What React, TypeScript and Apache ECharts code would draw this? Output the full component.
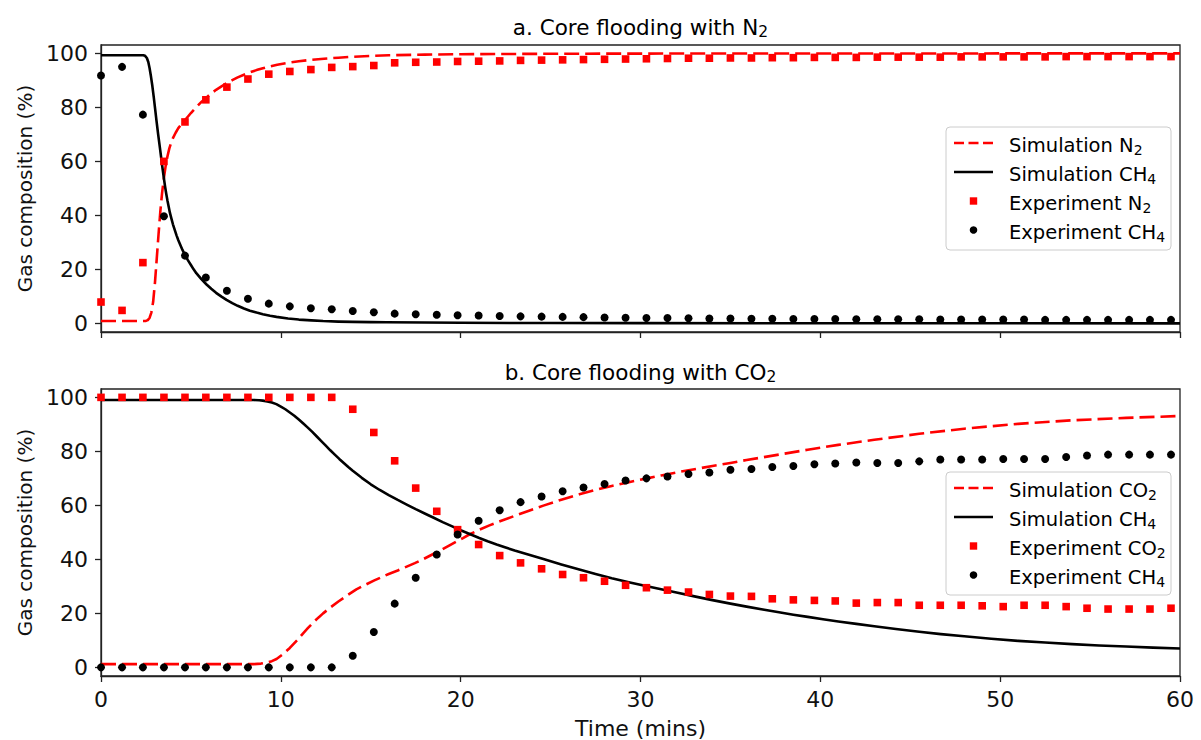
import React, { useEffect, useRef } from "react";
import * as echarts from "echarts";

// ---------- Data ----------
const expTime = [
  0, 1.17, 2.33, 3.5, 4.67, 5.83, 7, 8.17, 9.33, 10.5, 11.67, 12.83, 14, 15.17, 16.33, 17.5, 18.67, 19.83, 21,
  22.17, 23.33, 24.5, 25.67, 26.83, 28, 29.17, 30.33, 31.5, 32.67, 33.83, 35, 36.17, 37.33, 38.5, 39.67, 40.83,
  42, 43.17, 44.33, 45.5, 46.67, 47.83, 49, 50.17, 51.33, 52.5, 53.67, 54.83, 56, 57.17, 58.33, 59.5,
];

// Panel a: N2 flooding
const expN2A = [
  7.9, 4.8, 22.5, 60, 74.6, 82.8, 87.5, 90.5, 92.3, 93.3, 94, 94.8, 95.1, 95.5,
  96.5, 96.7, 96.8, 97.0, 97.1, 97.2, 97.4, 97.5, 97.6, 97.7,
  97.8, 97.9, 98.0, 98.1, 98.2, 98.2, 98.3, 98.3, 98.4, 98.4,
  98.5, 98.5, 98.5, 98.6, 98.6, 98.6, 98.6, 98.7, 98.7, 98.7,
  98.7, 98.7, 98.8, 98.8, 98.8, 98.8, 98.8, 98.8,
];
const expCH4A = [
  91.8, 95, 77.3, 39.7, 25.1, 17, 12.1, 9.1, 7.3, 6.3, 5.6, 5.2, 4.6, 4.1,
  3.6, 3.4, 3.2, 3.0, 2.9, 2.7, 2.6, 2.5, 2.4, 2.3,
  2.2, 2.1, 2.0, 2.0, 1.9, 1.8, 1.8, 1.7, 1.7, 1.6,
  1.6, 1.6, 1.5, 1.5, 1.5, 1.5, 1.4, 1.4, 1.4, 1.4,
  1.4, 1.3, 1.3, 1.3, 1.3, 1.3, 1.3, 1.3,
];
const simN2ATime = [
  0, 2.5, 2.6, 2.7, 2.8, 2.9, 3.0, 3.1, 3.2, 3.3, 3.4, 3.5, 3.6, 3.7, 3.8, 3.9, 4.0, 4.15, 4.3, 4.5, 4.67, 4.85,
  5.0, 5.3, 5.6, 5.87, 6.1, 6.4, 6.7, 7, 7.3, 7.6, 7.95, 8.3, 8.65, 9, 9.4, 9.8, 10.4, 11, 11.7, 12.4, 13.2, 14,
  15, 16, 18, 20, 25, 30, 45, 60,
];
const simN2A = [
  0.9, 0.9, 1.2, 2, 4, 8, 15, 24, 33, 41.5, 48.5, 54, 58.5, 62, 64.8, 66.9, 68.6, 70.6, 72.3, 74, 75.3, 76.7,
  77.9, 80.1, 82.1, 83.7, 85, 86.5, 87.8, 89, 90.1, 91.1, 92.1, 93, 93.8, 94.5, 95.2, 95.8, 96.5, 97.1, 97.6, 98,
  98.4, 98.75, 99.05, 99.3, 99.55, 99.7, 99.85, 99.92, 99.97, 100,
];
const simCH4ATime = [
  0, 2.35, 2.45, 2.55, 2.63, 2.7, 2.77, 2.85, 2.93, 3.0, 3.09, 3.18, 3.28, 3.36, 3.43, 3.5, 3.56, 3.63, 3.7, 3.77,
  3.83, 3.92, 4.0, 4.1, 4.2, 4.3, 4.4, 4.53, 4.67, 4.83, 5.0, 5.15, 5.3, 5.58, 5.87, 6.13, 6.4, 6.7, 6.98, 7.3, 7.6,
  7.95, 8.28, 8.65, 9, 9.4, 9.76, 10.4, 11, 11.7, 12.35, 13.2, 14, 15, 15.87, 18, 20, 25, 30, 45, 60,
];
const simCH4A = [
  99.3, 99.3, 99.1, 98.3, 96.8, 94.6, 91.8, 88.2, 84, 80, 74.8, 69.9, 64.8, 60.6, 57, 53.6, 50.8, 47.9, 45.3, 43,
  41, 38.7, 36.7, 34.6, 32.6, 30.8, 29.2, 27.2, 25.3, 23.4, 21.6, 20.0, 18.6, 16.4, 14.4, 12.8, 11.3, 9.9, 8.7,
  7.5, 6.5, 5.5, 4.7, 4.0, 3.4, 2.8, 2.4, 1.8, 1.4, 1.1, 0.85, 0.65, 0.55, 0.45, 0.4, 0.3, 0.2, 0.12, 0.08, 0.03, 0,
];

// Panel b: CO2 flooding
const expCO2B = [
  100, 100, 100, 100, 100, 100, 100, 100, 100, 100, 100, 100,
  95.6, 87, 76.5, 66.4, 57.8, 51, 45.5, 41.4, 38.7, 36.5,
  34.4, 33.2, 31.9, 30.4, 29.5, 28.6, 27.9, 27.0, 26.4, 26.3,
  25.4, 25.0, 24.8, 24.6, 23.8, 24, 24, 23, 23, 23,
  22.8, 22.5, 23, 23, 22.5, 21.9, 21.6, 21.6, 21.6, 21.9,
];
const expCH4B = [
  0, 0, 0, 0, 0, 0, 0, 0, 0, 0, 0, 0,
  4.3, 13.1, 23.6, 33.2, 41.8, 49.2, 54.3, 58.2, 61.2, 63.3,
  65.2, 66.6, 67.9, 69.2, 70, 70.7, 71.6, 72.2, 73.2, 73.5,
  74.2, 74.6, 75.2, 75.5, 75.9, 75.7, 75.7, 76.3, 77, 77,
  77, 77.2, 77.2, 77.2, 77.9, 78.5, 78.8, 78.8, 78.8, 78.8,
];
const simCO2BTime = [
  0, 8.5, 8.9, 9.2, 9.5, 9.76, 10.1, 10.5, 10.9, 11.24, 11.5, 11.8, 12.1, 12.35, 12.8, 13.2, 13.7, 14.2, 14.7,
  15.2, 15.6, 16, 16.5, 17, 17.45, 17.9, 18.45, 19, 19.38, 19.76, 20.13, 20.5, 21.05, 21.6, 22.3, 23, 23.8, 24.6,
  25.6, 26.6, 27.5, 28.4, 29.35, 30.3, 31.15, 32, 33, 34, 35, 35.9, 37.7, 39.3, 41, 43, 45.5, 48, 51, 54, 57, 60,
];
const simCO2B = [
  1.2, 1.2, 1.4, 1.8, 2.3, 3.1, 4.8, 7.2, 10.0, 12.6, 14.5, 16.6, 18.5, 20.0, 22.4, 24.4, 26.7, 28.9, 30.6,
  32.2, 33.4, 34.6, 35.9, 37.3, 38.6, 40.0, 41.9, 43.8, 45.2, 46.6, 47.9, 49.3, 51.0, 52.6, 54.4, 56.1, 58.0, 59.9,
  62.1, 64.1, 65.7, 67.2, 68.6, 69.9, 71.1, 72.2, 73.4, 74.6, 75.7, 76.8, 78.8, 80.6, 82.4, 84.3, 86.5, 88.4,
  90.2, 91.5, 92.4, 93.1,
];
const simCH4BTime = [
  0, 8.5, 8.8, 9, 9.25, 9.5, 9.75, 10, 10.25, 10.5, 10.75, 11, 11.25, 11.5, 11.75, 12, 12.25, 12.5, 12.75, 13,
  13.25, 13.5, 13.75, 14, 14.5, 15, 15.5, 16, 16.5, 17, 17.5, 18, 18.5, 19, 19.5, 20, 20.5, 21, 21.5, 22, 22.5, 23,
  23.8, 24.6, 25.6, 26.6, 27.5, 28.4, 29.35, 30.3, 31.15, 32, 33, 34, 35, 35.9, 36.8, 37.7, 38.5, 39.3, 40.15, 41,
  42, 43, 44.2, 45.5, 46.7, 48, 49.5, 51, 52.5, 54, 55.5, 57, 58.5, 60,
];
const simCH4B = [
  99, 99, 98.95, 98.8, 98.5, 98.1, 97.5, 96.6, 95.6, 94.4, 93.2, 91.8, 90.3, 88.8, 87.2, 85.5, 83.8, 82.1, 80.4,
  78.8, 77.2, 75.7, 74.2, 72.8, 70.2, 67.8, 65.7, 63.8, 62.0, 60.3, 58.6, 57.0, 55.4, 53.8, 52.3, 50.8, 49.4, 48.0,
  46.7, 45.5, 44.4, 43.3, 41.7, 40.1, 38.1, 36.2, 34.6, 33.0, 31.5, 30.1, 28.9, 27.7, 26.3, 24.9, 23.6, 22.5,
  21.4, 20.4, 19.5, 18.7, 17.8, 17.0, 16.1, 15.2, 14.2, 13.2, 12.3, 11.5, 10.6, 9.8, 9.2, 8.6, 8.1, 7.7, 7.3, 7.0,
];

const yTickValues = [0, 20, 40, 60, 80, 100];
const titleA = "a. Core flooding with N₂";
const titleB = "b. Core flooding with CO₂";
const legendA = ["Simulation N₂", "Simulation CH₄", "Experiment N₂", "Experiment CH₄"];
const legendB = ["Simulation CO₂", "Simulation CH₄", "Experiment CO₂", "Experiment CH₄"];
const yName = "Gas composition (%)";
const xName = "Time (mins)";

// ---------- Styling ----------
const FONT = "DejaVu Sans";
const TXT = "#111";
const AX = "#222";
const RED = "#ff0000";
const BLACK = "#000000";

const zip = (xs: number[], ys: number[]) => xs.map((x, i) => [x, ys[i]]);

const SUBS = "₀₁₂₃₄₅₆₇₈₉";
// Turn "N₂" into rich-text tokens with a real subscript
function richify(s: string) {
  let out = "";
  let cur = "";
  let mode: "m" | "s" = "m";
  for (const ch of s) {
    const k = SUBS.indexOf(ch);
    const m: "m" | "s" = k >= 0 ? "s" : "m";
    const c = k >= 0 ? String(k) : ch;
    if (m !== mode && cur) {
      out += `{${mode}|${cur}}`;
      cur = "";
    }
    mode = m;
    cur += c;
  }
  if (cur) out += `{${mode}|${cur}}`;
  return out;
}

function richStyle(size: number, subSize: number, mainLH: number, subLH: number) {
  return {
    m: { fontSize: size, fontFamily: FONT, color: TXT, lineHeight: mainLH },
    s: { fontSize: subSize, fontFamily: FONT, color: TXT, lineHeight: subLH, verticalAlign: "bottom" },
  };
}

function legendGroup(top: number, labels: string[]) {
  const left = 946;
  const rowY = (i: number) => top + 16 + 29 * i;
  const children: any[] = [
    {
      type: "rect",
      shape: { x: left, y: top, width: 225, height: 123, r: 4 },
      style: { fill: "rgba(255,255,255,0.85)", stroke: "#cccccc", lineWidth: 1 },
    },
    {
      type: "line",
      shape: { x1: 954, y1: rowY(0), x2: 993, y2: rowY(0) },
      style: { stroke: RED, lineWidth: 2.6, lineDash: [10, 4.5] },
    },
    {
      type: "line",
      shape: { x1: 954, y1: rowY(1), x2: 993, y2: rowY(1) },
      style: { stroke: BLACK, lineWidth: 2.6 },
    },
    {
      type: "rect",
      shape: { x: 973.5 - 3.7, y: rowY(2) - 3.7, width: 7.4, height: 7.4 },
      style: { fill: RED },
    },
    {
      type: "circle",
      shape: { cx: 973.5, cy: rowY(3), r: 3.8 },
      style: { fill: BLACK },
    },
  ];
  labels.forEach((t, i) => {
    children.push({
      type: "text",
      x: 1009,
      y: rowY(i) + 2,
      style: {
        text: richify(t),
        rich: richStyle(19.5, 14, 24, 14),
        align: "left",
        verticalAlign: "middle",
      },
    });
  });
  return { type: "group", z: 100, children };
}

function yAxisCfg(gridIndex: number) {
  return {
    type: "value",
    gridIndex,
    min: -3.2,
    max: 103.1,
    axisLine: { show: true, onZero: false, lineStyle: { color: AX, width: 1.3 } },
    axisTick: { show: true, length: 6, customValues: yTickValues, lineStyle: { color: AX, width: 1.3 } },
    axisLabel: { show: true, customValues: yTickValues, fontSize: 22, fontFamily: FONT, color: TXT, margin: 13 },
    splitLine: { show: false },
    name: yName,
    nameLocation: "middle",
    nameGap: 66,
    nameTextStyle: { fontSize: 20, fontFamily: FONT, color: TXT },
  };
}

function xAxisCfg(gridIndex: number, showLabels: boolean) {
  return {
    type: "value",
    gridIndex,
    min: 0,
    max: 60,
    interval: 10,
    axisLine: { show: true, onZero: false, lineStyle: { color: AX, width: 1.3 } },
    axisTick: { show: true, length: 6, lineStyle: { color: AX, width: 1.3 } },
    axisLabel: { show: showLabels, fontSize: 22, fontFamily: FONT, color: TXT, margin: 12 },
    splitLine: { show: false },
    ...(showLabels
      ? {
          name: xName,
          nameLocation: "middle",
          nameGap: 41,
          nameTextStyle: { fontSize: 22, fontFamily: FONT, color: TXT },
        }
      : {}),
  };
}

function lineSeries(name: string, idx: number, data: number[][], color: string, dashed: boolean) {
  return {
    type: "line",
    name,
    xAxisIndex: idx,
    yAxisIndex: idx,
    data,
    showSymbol: false,
    symbol: "none",
    smooth: false,
    lineStyle: { color, width: 2.6, type: dashed ? [15, 6] : "solid", join: "round", cap: "butt" },
    z: 2,
  };
}

function scatterSeries(name: string, idx: number, data: number[][], color: string, square: boolean) {
  return {
    type: "scatter",
    name,
    xAxisIndex: idx,
    yAxisIndex: idx,
    data,
    symbol: square ? "rect" : "circle",
    symbolSize: square ? 7.6 : 8,
    itemStyle: { color, opacity: 1 },
    z: 3,
  };
}

export default function App() {
  const ref = useRef<HTMLDivElement>(null);
  useEffect(() => {
    if (!ref.current) return;
    const chart = echarts.init(ref.current, undefined, { renderer: "svg" });
    const option: any = {
      animation: false,
      backgroundColor: "#ffffff",
      grid: [
        { left: 101, top: 45, width: 1079, height: 287, show: true, borderColor: AX, borderWidth: 1.3, backgroundColor: "transparent" },
        { left: 101, top: 389, width: 1079, height: 288, show: true, borderColor: AX, borderWidth: 1.3, backgroundColor: "transparent" },
      ],
      xAxis: [xAxisCfg(0, false), xAxisCfg(1, true)],
      yAxis: [yAxisCfg(0), yAxisCfg(1)],
      series: [
        lineSeries(legendA[0], 0, zip(simN2ATime, simN2A), RED, true),
        lineSeries(legendA[1], 0, zip(simCH4ATime, simCH4A), BLACK, false),
        scatterSeries(legendA[2], 0, zip(expTime, expN2A), RED, true),
        scatterSeries(legendA[3], 0, zip(expTime, expCH4A), BLACK, false),
        lineSeries(legendB[0], 1, zip(simCO2BTime, simCO2B), RED, true),
        lineSeries(legendB[1], 1, zip(simCH4BTime, simCH4B), BLACK, false),
        scatterSeries(legendB[2], 1, zip(expTime, expCO2B), RED, true),
        scatterSeries(legendB[3], 1, zip(expTime, expCH4B), BLACK, false),
      ],
      graphic: [
        {
          type: "text",
          x: 640.5,
          y: 27,
          style: { text: richify(titleA), rich: richStyle(21.5, 15.5, 26, 15), align: "center", verticalAlign: "middle" },
        },
        {
          type: "text",
          x: 640.5,
          y: 372,
          style: { text: richify(titleB), rich: richStyle(21.5, 15.5, 26, 15), align: "center", verticalAlign: "middle" },
        },
        legendGroup(127, legendA),
        legendGroup(472, legendB),
      ],
    };
    chart.setOption(option);
    return () => chart.dispose();
  }, []);
  return (
    <div
      ref={ref}
      style={{ position: "fixed", left: 0, top: 0, width: 1201, height: 740, background: "#fff" }}
    />
  );
}
